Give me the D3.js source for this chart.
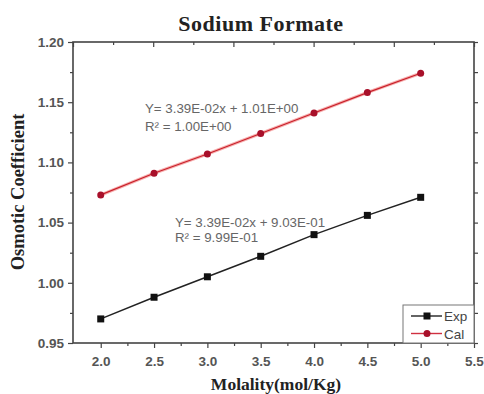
<!DOCTYPE html>
<meta charset="utf-8">
<style>
body { margin: 0; background: #fff; }
.tick text { font-family: "Liberation Sans", Arial, sans-serif; font-size: 13.5px; font-weight: bold; fill: #555; }
.domain { display: none; }
.tick line { stroke: #444; stroke-width: 1.2px; }
.ann { font-family: "Liberation Sans", Arial, sans-serif; font-size: 13.3px; fill: #666; }
</style>
<svg width="484" height="394"></svg>
<script src="https://d3js.org/d3.v7.min.js"></script>
<script>
var molality = [2.0, 2.5, 3.0, 3.5, 4.0, 4.5, 5.0];
var expValues = [0.970, 0.988, 1.005, 1.022, 1.040, 1.056, 1.071];
var calValues = [1.073, 1.091, 1.107, 1.124, 1.141, 1.158, 1.174];
var xTicks = [2.0, 2.5, 3.0, 3.5, 4.0, 4.5, 5.0, 5.5];
var yTicks = [0.95, 1.00, 1.05, 1.10, 1.15, 1.20];
var calFit = ["Y= 3.39E-02x + 1.01E+00", "R\u00b2 = 1.00E+00"];
var expFit = ["Y= 3.39E-02x + 9.03E-01", "R\u00b2 = 9.99E-01"];
var legendNames = ["Exp", "Cal"];

var svg = d3.select("svg"),
    pL = 73, pR = 474, pT = 42, pB = 343;

var x = d3.scaleLinear().domain([1.74, 5.5]).range([pL, pR]);
var y = d3.scaleLinear().domain([0.95, 1.20]).range([pB, pT]);
var xTop = d3.scaleLinear().domain([0, 5]).range([pL, pR]);

// frame
svg.append("rect")
    .attr("x", pL).attr("y", pT)
    .attr("width", pR - pL).attr("height", pB - pT)
    .attr("fill", "none").attr("stroke", "#444").attr("stroke-width", 1.6);

// bottom axis
svg.append("g").attr("transform", "translate(0," + pB + ")")
    .call(d3.axisBottom(x).tickValues(xTicks).tickSize(5).tickPadding(8).tickFormat(d3.format(".1f")));
svg.append("g").attr("transform", "translate(0," + pB + ")")
    .call(d3.axisBottom(x).tickValues(xTicks.slice(0, -1).map(function(d) { return d + 0.25; })).tickSize(3).tickFormat(""));

// left axis
svg.append("g").attr("transform", "translate(" + pL + ",0)")
    .call(d3.axisLeft(y).tickValues(yTicks).tickSize(5).tickPadding(4).tickFormat(d3.format(".2f")));
svg.append("g").attr("transform", "translate(" + pL + ",0)")
    .call(d3.axisLeft(y).tickValues(yTicks.slice(0, -1).map(function(d) { return d + 0.025; })).tickSize(3).tickFormat(""));

// right axis
svg.append("g").attr("transform", "translate(" + pR + ",0)")
    .call(d3.axisRight(y).tickValues(d3.range(0, 11).map(function(i) { return 0.95 + i * 0.025; })).tickSize(4).tickFormat(""));

// top axis (inward)
svg.append("g").attr("transform", "translate(0," + pT + ")")
    .call(d3.axisBottom(xTop).ticks(5).tickSize(5).tickFormat(""));
svg.append("g").attr("transform", "translate(0," + pT + ")")
    .call(d3.axisBottom(xTop).tickValues(d3.range(0, 5).map(function(d) { return d + 0.5; })).tickSize(3).tickFormat(""));

var line = d3.line()
    .x(function(d, i) { return x(molality[i]); })
    .y(function(d) { return y(d); });

// Cal series
svg.append("path").datum(calValues)
    .attr("d", line).attr("fill", "none")
    .attr("stroke", "#f7b0b0").attr("stroke-width", 3.2);
svg.append("path").datum(calValues)
    .attr("d", line).attr("fill", "none")
    .attr("stroke", "#c8202a").attr("stroke-width", 1.2);
svg.selectAll(".cal").data(calValues).enter().append("circle")
    .attr("cx", function(d, i) { return x(molality[i]); })
    .attr("cy", function(d) { return y(d); })
    .attr("r", 3.5).attr("fill", "#a8102a");

// Exp series
svg.append("path").datum(expValues)
    .attr("d", line).attr("fill", "none")
    .attr("stroke", "#222").attr("stroke-width", 1.5);
svg.selectAll(".exp").data(expValues).enter().append("rect")
    .attr("x", function(d, i) { return x(molality[i]) - 3.5; })
    .attr("y", function(d) { return y(d) - 3.5; })
    .attr("width", 7).attr("height", 7).attr("fill", "#111");

// fit annotations
svg.append("text").attr("class", "ann").attr("x", 145).attr("y", 113).text(calFit[0]);
svg.append("text").attr("class", "ann").attr("x", 145).attr("y", 131).text(calFit[1]);
svg.append("text").attr("class", "ann").attr("x", 175).attr("y", 227).text(expFit[0]);
svg.append("text").attr("class", "ann").attr("x", 175).attr("y", 242).text(expFit[1]);

// legend
var lg = svg.append("g");
lg.append("rect").attr("x", 403).attr("y", 305).attr("width", pR - 403).attr("height", pB - 305)
    .attr("fill", "#fff").attr("stroke", "#777").attr("stroke-width", 1);
legendNames.forEach(function(name, i) {
  var ly = 316 + i * 17.5, col = i === 0 ? "#222" : "#d03040";
  lg.append("line").attr("x1", 411).attr("x2", 442).attr("y1", ly).attr("y2", ly)
      .attr("stroke", col).attr("stroke-width", 1.4);
  if (i === 0) {
    lg.append("rect").attr("x", 423.5).attr("y", ly - 3.5).attr("width", 7).attr("height", 7).attr("fill", "#111");
  } else {
    lg.append("circle").attr("cx", 427).attr("cy", ly).attr("r", 3.5).attr("fill", "#a8102a");
  }
  lg.append("text").attr("x", 444).attr("y", ly + 5)
      .style("font-family", "Liberation Sans, Arial, sans-serif").style("font-size", "13.5px").style("fill", "#444")
      .text(name);
});

// titles
svg.append("text").attr("x", 261).attr("y", 31).attr("text-anchor", "middle")
    .style("font-family", "Liberation Serif, Times New Roman, serif").style("font-weight", "bold")
    .style("font-size", "22px").style("fill", "#222").style("letter-spacing", "0.5px")
    .text("Sodium Formate");
svg.append("text").attr("x", 276).attr("y", 390).attr("text-anchor", "middle")
    .style("font-family", "Liberation Serif, Times New Roman, serif").style("font-weight", "bold")
    .style("font-size", "17.5px").style("fill", "#222")
    .text("Molality(mol/Kg)");
svg.append("text").attr("transform", "translate(24,192) rotate(-90)").attr("text-anchor", "middle")
    .style("font-family", "Liberation Serif, Times New Roman, serif").style("font-weight", "bold")
    .style("font-size", "18.5px").style("fill", "#222")
    .text("Osmotic Coefficient");
</script>
